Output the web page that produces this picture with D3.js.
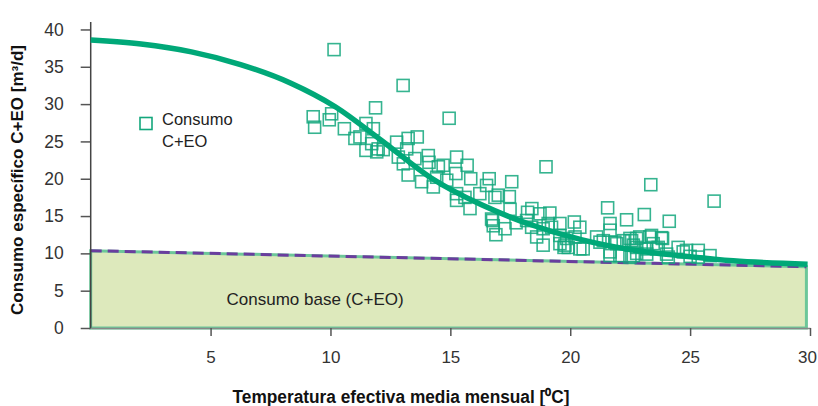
<!DOCTYPE html>
<html>
<head>
<meta charset="utf-8">
<script src="https://cdn.jsdelivr.net/npm/d3@7"></script>
<style>
  body { margin: 0; background: #fff; }
  svg { display: block; }
</style>
</head>
<body>
<svg id="chart" width="818" height="406"></svg>
<script>
// Monthly observations: effective mean temperature (°C) vs specific consumption C+EO (m³/d)
const tempX = [
  10.15, 13.03, 11.88, 14.95, 9.28, 9.34, 10.05, 9.95, 10.58, 11.48, 11.79, 11.02, 11.23, 11.48,
  11.72, 11.99, 12.2, 11.93, 12.76, 13.24, 13.62, 13.18, 12.83, 13.04, 13.24, 13.52, 14.08, 14.11,
  13.8, 14.29, 14.5, 14.7, 14.43, 14.85, 15.26, 15.23, 15.7, 15.85, 16.62, 16.51, 15.26, 15.61,
  15.26, 15.82, 16.23, 16.86, 16.72, 16.79,
  18.99, 23.36, 26.0, 17.56, 17.0, 17.46, 21.56, 23.09, 22.35, 24.13, 18.22, 18.74, 19.15, 16.76,
  17.49, 16.9, 17.28, 17.74, 18.18, 18.39, 18.87, 19.08, 19.57, 19.74, 20.17, 20.4, 20.2, 20.54,
  21.1, 21.38, 21.66, 21.66, 21.66, 21.94, 22.21, 22.56, 22.77, 22.9, 23.32, 23.46, 23.81, 23.67,
  24.5, 24.71, 25.34, 25.83, 25.34, 25.0, 24.02, 22.63, 23.19, 19.57, 19.92,
  18.87, 19.22, 18.6, 19.85, 19.78, 20.4, 21.24, 21.86, 22.49, 22.77, 22.63, 23.39, 23.85, 23.19,
  23.6, 24.85, 24.09, 22.07, 22.49, 21.66, 22.77, 18.4, 19.57
];
const consumoY = [
  37.3, 32.5, 29.5, 28.1, 28.3, 26.9, 28.7, 27.9, 26.7, 27.4, 26.7, 25.4, 25.6, 23.8,
  24.7, 24.0, 23.9, 23.6, 24.9, 25.4, 25.6, 24.0, 22.9, 22.0, 20.5, 22.7, 23.1, 22.2,
  19.6, 18.9, 21.6, 21.8, 20.2, 19.8, 22.9, 20.7, 21.8, 20.0, 20.0, 19.1, 18.0, 17.5,
  17.1, 16.0, 18.0, 17.5, 14.6, 13.7,
  21.6, 19.2, 17.0, 19.6, 17.8, 17.6, 16.1, 15.2, 14.5, 14.3, 15.5, 15.3, 15.4, 14.4,
  15.9, 12.5, 13.3, 14.1, 14.4, 13.5, 11.1, 14.0, 12.4, 10.8, 14.2, 13.5, 12.2, 10.6,
  12.2, 11.7, 14.0, 13.1, 9.7, 11.3, 11.7, 11.7, 10.8, 12.2, 12.2, 11.3, 12.1, 10.8,
  10.8, 10.2, 10.4, 9.7, 9.5, 9.6, 9.9, 9.7, 9.9, 11.3, 10.8,
  13.3, 13.5, 12.2, 12.0, 11.1, 10.6, 11.5, 11.5, 12.0, 12.0, 11.1, 12.4, 12.0, 10.6,
  10.6, 10.4, 9.5, 9.7, 9.5, 10.2, 10.0, 16.0, 14.0
];

// Fitted consumption curve
const fitX = [0, 2.1, 4.2, 6.25, 8.35, 10.2, 12.1, 14.2, 16.3, 18.4, 20.5, 22.6, 24.7, 26.8, 29.9];
const fitY = [38.6, 38.05, 37.0, 35.3, 32.8, 29.65, 25.2, 20.1, 16.5, 13.8, 11.8, 10.45, 9.65, 9.0, 8.55];

// Base consumption (C+EO)
const baseX = [0, 29.85];
const baseY = [10.36, 8.2];

const xTicks = [5, 10, 15, 20, 25, 30];
const yTicks = [0, 5, 10, 15, 20, 25, 30, 35, 40];

const FONT = "'Liberation Sans', Arial, sans-serif";

const svg = d3.select("#chart");

const x = d3.scaleLinear().domain([0, 30]).range([90.7, 810]);
const y = d3.scaleLinear().domain([0, 41]).range([328, 22]);

// Base consumption area
const basePts = baseX.map((d, i) => [d, baseY[i]]);
const basePoly = [[baseX[0], 0], ...basePts, [baseX[1], 0]];
svg.append("path")
  .attr("d", d3.line().x(d => x(d[0])).y(d => y(d[1]))(basePoly) + "Z")
  .attr("fill", "#dde9bc")
  .attr("stroke", "#6cc799")
  .attr("stroke-width", 3)
  .attr("stroke-linejoin", "miter");

svg.append("path")
  .attr("d", d3.line().x(d => x(d[0])).y(d => y(d[1]))(basePts))
  .attr("fill", "none")
  .attr("stroke", "#6a3d9e")
  .attr("stroke-width", 3)
  .attr("stroke-dasharray", "11,6");

svg.append("text")
  .attr("x", 226.5).attr("y", 305)
  .attr("font-family", FONT).attr("font-size", 17).attr("fill", "#222")
  .text("Consumo base (C+EO)");

// Axes
const yAxis = svg.append("g")
  .attr("transform", `translate(${x(0)},0)`)
  .call(d3.axisLeft(y).tickValues(yTicks).tickSize(10).tickPadding(17).tickSizeOuter(0));
yAxis.select(".domain").remove();
yAxis.append("line")
  .attr("x1", 0).attr("x2", 0).attr("y1", y(41)).attr("y2", y(0))
  .attr("stroke", "#444").attr("stroke-width", 1.5);
yAxis.selectAll(".tick line").attr("stroke", "#555").attr("stroke-width", 1.5);
yAxis.selectAll(".tick text")
  .attr("font-family", FONT).attr("font-size", 17.5).attr("fill", "#333");

const xAxis = svg.append("g")
  .attr("transform", `translate(0,${y(0)})`)
  .call(d3.axisBottom(x).tickValues(xTicks).tickSize(8).tickPadding(15).tickSizeOuter(0));
xAxis.select(".domain").attr("stroke", "#888").attr("stroke-width", 1.5);
xAxis.selectAll(".tick line").attr("stroke", "#555").attr("stroke-width", 1.5);
xAxis.selectAll(".tick text")
  .attr("font-family", FONT).attr("font-size", 17).attr("fill", "#333");
// keep the last label inside the canvas
xAxis.selectAll(".tick text").filter(d => d === 30).attr("dx", -3);

// Observations
const S = 12;
svg.append("g").selectAll("rect")
  .data(tempX.map((d, i) => [d, consumoY[i]]))
  .join("rect")
  .attr("x", d => x(d[0]) - S / 2)
  .attr("y", d => y(d[1]) - S / 2)
  .attr("width", S).attr("height", S)
  .attr("fill", "none")
  .attr("stroke", "#13a77c")
  .attr("stroke-opacity", 0.85)
  .attr("stroke-width", 1.6);

// Fitted curve
svg.append("path")
  .attr("d", d3.line().curve(d3.curveMonotoneX)
    .x(d => x(d[0])).y(d => y(d[1]))(fitX.map((d, i) => [d, fitY[i]])))
  .attr("fill", "none")
  .attr("stroke", "#00a878")
  .attr("stroke-width", 5.5)
  .attr("stroke-linecap", "butt");

// Legend
svg.append("rect")
  .attr("x", 140).attr("y", 117.5).attr("width", S).attr("height", S)
  .attr("fill", "none").attr("stroke", "#13a77c").attr("stroke-width", 1.6);
const leg = svg.append("text")
  .attr("font-family", FONT).attr("font-size", 16.5).attr("fill", "#222");
leg.append("tspan").attr("x", 162).attr("y", 124.5).text("Consumo");
leg.append("tspan").attr("x", 162).attr("y", 147).text("C+EO");

// Axis titles
svg.append("text")
  .attr("transform", "translate(22.5,180) rotate(-90)")
  .attr("text-anchor", "middle")
  .attr("font-family", FONT).attr("font-weight", "bold").attr("font-size", 16.5)
  .attr("fill", "#111")
  .attr("textLength", 270).attr("lengthAdjust", "spacingAndGlyphs")
  .text("Consumo específico C+EO [m³/d]");

svg.append("text")
  .attr("x", 401).attr("y", 402.5)
  .attr("text-anchor", "middle")
  .attr("font-family", FONT).attr("font-weight", "bold").attr("font-size", 17.5)
  .attr("fill", "#111")
  .attr("textLength", 337).attr("lengthAdjust", "spacingAndGlyphs")
  .text("Temperatura efectiva media mensual [⁰C]");
</script>
</body>
</html>
